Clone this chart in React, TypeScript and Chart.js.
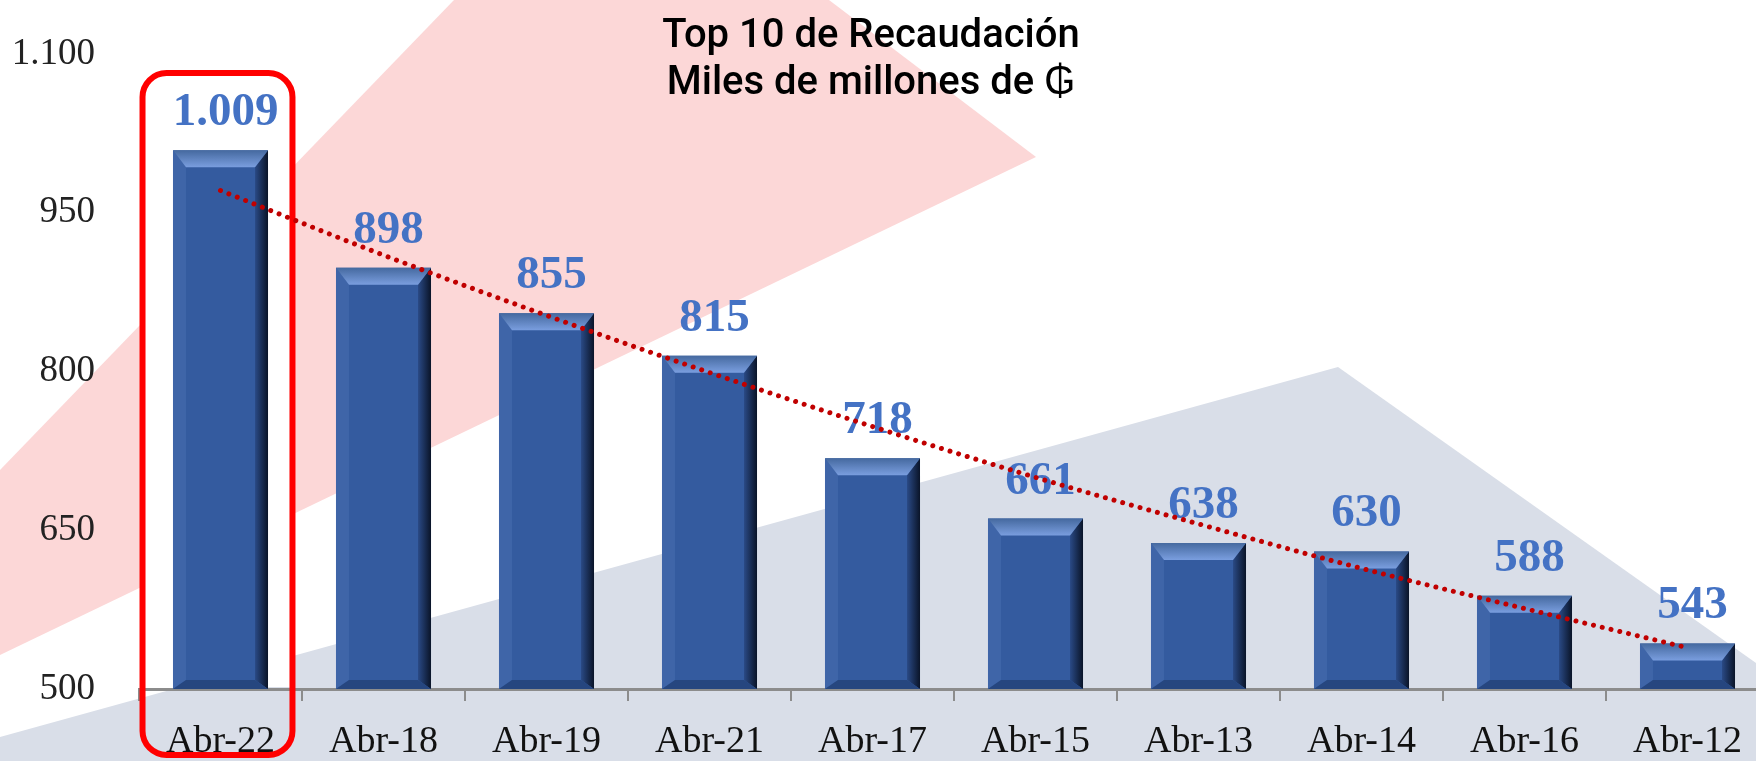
import { useEffect, useRef } from 'react';
import { Chart, registerables } from 'chart.js';

Chart.register(...registerables);

const categories = ['Abr-22', 'Abr-18', 'Abr-19', 'Abr-21', 'Abr-17', 'Abr-15', 'Abr-13', 'Abr-14', 'Abr-16', 'Abr-12'];
const recaudacion = [1009, 898, 855, 815, 718, 661, 638, 630, 588, 543];
const tendencia = [971, 910, 853, 799, 748, 700, 656, 614, 576, 539];
const yTicks = [500, 650, 800, 950, 1100];
const titleLines = ['Top 10 de Recaudación', 'Miles de millones de ₲'];
const highlightIndex = 0;

const fmt = (v: number) => String(v).replace(/\B(?=(\d{3})+(?!\d))/g, '.');

const W = 1780;
const H = 761;

const backgroundPlugin = {
  id: 'bgDeco',
  beforeDraw(chart: any) {
    const ctx = chart.ctx as CanvasRenderingContext2D;
    ctx.save();
    ctx.fillStyle = '#ffffff';
    ctx.fillRect(0, 0, chart.width, chart.height);
    ctx.fillStyle = '#FCD7D7';
    ctx.beginPath();
    ctx.moveTo(454, 0);
    ctx.lineTo(829, 0);
    ctx.lineTo(1036, 157);
    ctx.lineTo(0, 655);
    ctx.lineTo(0, 470);
    ctx.closePath();
    ctx.fill();
    ctx.fillStyle = '#D9DEE8';
    ctx.beginPath();
    ctx.moveTo(1338, 367);
    ctx.lineTo(chart.width, 680);
    ctx.lineTo(chart.width, chart.height);
    ctx.lineTo(0, chart.height);
    ctx.lineTo(0, 737);
    ctx.closePath();
    ctx.fill();
    ctx.restore();
  },
};

const boxPlugin = {
  id: 'highlightBox',
  beforeDatasetsDraw(chart: any) {
    const ctx = chart.ctx as CanvasRenderingContext2D;
    const xs = chart.scales.x;
    const ys = chart.scales.y;
    const area = chart.chartArea;
    const catW = (area.right - area.left) / categories.length;
    const cx = xs.getPixelForValue(highlightIndex) - 3;
    const half = catW * 0.46;
    const left = cx - half;
    const right = cx + half;
    const top = ys.getPixelForValue(1082);
    const bottom = chart.height - 6;
    ctx.save();
    ctx.fillStyle = '#ffffff';
    ctx.fillRect(left, top, right - left, area.bottom - 2 - top);
    ctx.strokeStyle = '#FF0000';
    ctx.lineWidth = 6;
    ctx.beginPath();
    (ctx as any).roundRect(left, top, right - left, bottom - top, 24);
    ctx.stroke();
    ctx.restore();
  },
};

const poly = (ctx: CanvasRenderingContext2D, pts: number[][]) => {
  ctx.beginPath();
  ctx.moveTo(pts[0][0], pts[0][1]);
  for (let i = 1; i < pts.length; i++) ctx.lineTo(pts[i][0], pts[i][1]);
  ctx.closePath();
  ctx.fill();
};

const bevelPlugin = {
  id: 'bevelLabels',
  afterDatasetDraw(chart: any, args: any) {
    if (args.index !== 0) return;
    const ctx = chart.ctx as CanvasRenderingContext2D;
    const area = chart.chartArea;
    const meta = chart.getDatasetMeta(0);
    meta.data.forEach((bar: any, i: number) => {
      const { x, y, width, base } = bar.getProps(['x', 'y', 'width', 'base'], true);
      const l = x - width / 2;
      const r = x + width / 2;
      const t = y;
      const b = Math.min(base, area.bottom);
      const bv = 17;
      const sv = 13;
      const bb = 9;
      ctx.save();
      let g = ctx.createLinearGradient(r - sv, 0, r, 0);
      g.addColorStop(0, '#2A4A86');
      g.addColorStop(1, '#0A1428');
      ctx.fillStyle = g;
      poly(ctx, [[r, t], [r, b], [r - sv, b - bb], [r - sv, t + bv]]);
      ctx.fillStyle = 'rgba(90,125,190,0.30)';
      poly(ctx, [[l, t], [l + sv, t + bv], [l + sv, b - bb], [l, b]]);
      ctx.fillStyle = '#26467F';
      poly(ctx, [[l, b], [l + sv, b - bb], [r - sv, b - bb], [r, b]]);
      g = ctx.createLinearGradient(0, t, 0, t + bv);
      g.addColorStop(0, '#45699F');
      g.addColorStop(1, '#7A9EDF');
      ctx.fillStyle = g;
      poly(ctx, [[l, t], [r, t], [r - sv, t + bv], [l + sv, t + bv]]);
      ctx.restore();

      ctx.save();
      ctx.font = 'bold 47px "Liberation Serif", serif';
      ctx.fillStyle = '#4472C4';
      ctx.textAlign = 'center';
      ctx.textBaseline = 'alphabetic';
      ctx.fillText(fmt(recaudacion[i]), x + 5, t - 25);
      ctx.restore();
    });
  },
};

const titlePlugin = {
  id: 'titleText',
  afterDraw(chart: any) {
    const ctx = chart.ctx as CanvasRenderingContext2D;
    ctx.save();
    ctx.font = '500 40px Roboto, "Liberation Sans", "DejaVu Sans", sans-serif';
    ctx.fillStyle = '#000000';
    ctx.textAlign = 'center';
    ctx.textBaseline = 'alphabetic';
    ctx.fillText(titleLines[0], 871, 47);
    ctx.fillText(titleLines[1], 871, 94);
    ctx.restore();
  },
};

export default function App() {
  const ref = useRef<HTMLCanvasElement>(null);
  useEffect(() => {
    const chart = new Chart(ref.current as HTMLCanvasElement, {
      type: 'bar',
      data: {
        labels: categories,
        datasets: [
          {
            type: 'bar',
            data: recaudacion,
            backgroundColor: '#345B9F',
            borderWidth: 0,
            barPercentage: 0.583,
            categoryPercentage: 1,
            order: 1,
          } as any,
          {
            type: 'line',
            data: tendencia,
            borderColor: '#C00000',
            borderWidth: 5,
            borderDash: [0.01, 9],
            borderCapStyle: 'round',
            pointRadius: 0,
            fill: false,
            cubicInterpolationMode: 'monotone',
            order: 0,
          } as any,
        ],
      },
      options: {
        responsive: false,
        animation: false,
        devicePixelRatio: 1,
        layout: { padding: { left: 0, right: 11, top: 54, bottom: 0 } },
        plugins: {
          legend: { display: false },
          title: { display: false },
          tooltip: { enabled: false },
        },
        scales: {
          x: {
            offset: true,
            grid: {
              display: true,
              drawOnChartArea: false,
              drawTicks: true,
              tickLength: 12,
              color: '#8C8C8C',
              lineWidth: 2,
              offset: true,
            },
            border: { display: true, color: '#8C8C8C', width: 3 },
            ticks: {
              padding: 18,
              color: '#111111',
              font: { family: '"Liberation Serif", serif', size: 38 },
              maxRotation: 0,
              autoSkip: false,
            },
            afterFit: (s: any) => {
              s.height = 72;
            },
          },
          y: {
            min: 500,
            max: 1100,
            grid: { display: false, drawTicks: false, tickLength: 0 },
            border: { display: false },
            ticks: {
              padding: 44,
              color: '#222222',
              font: { family: '"Liberation Serif", serif', size: 37 },
              callback: (v: any) => fmt(Number(v)),
            },
            afterBuildTicks: (s: any) => {
              s.ticks = yTicks.map((v) => ({ value: v }));
            },
            afterFit: (s: any) => {
              s.width = 139;
              s.paddingTop = 0;
              s.paddingBottom = 0;
            },
          },
        },
      },
      plugins: [backgroundPlugin, boxPlugin, bevelPlugin, titlePlugin],
    });
    return () => chart.destroy();
  }, []);
  return (
    <div
      style={{
        position: 'absolute',
        left: 0,
        top: 0,
        width: 1756,
        height: 761,
        overflow: 'hidden',
        background: '#ffffff',
      }}
    >
      <canvas ref={ref} width={W} height={H} style={{ display: 'block', width: W, height: H }} />
    </div>
  );
}
